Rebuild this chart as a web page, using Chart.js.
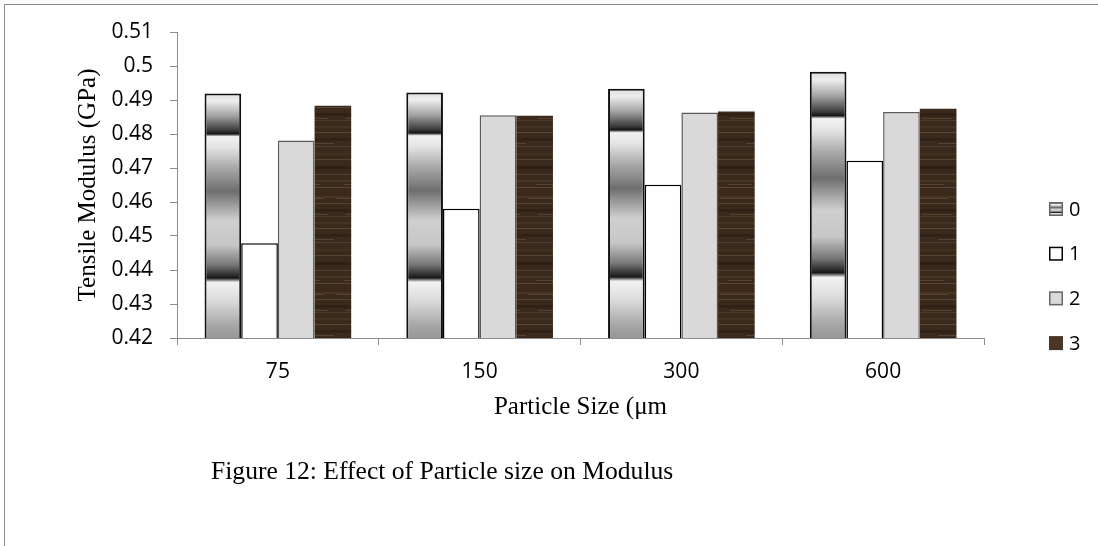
<!DOCTYPE html>
<html>
<head>
    <title>Effect of Particle size on Modulus</title>
    <script src="https://cdn.jsdelivr.net/npm/chart.js"></script>
    <style>
        body { margin: 0; background: #fff; }
        #frame { position: absolute; left: 4px; top: 4px; width: 1200px; height: 600px;
                 border-top: 1px solid #8c8c8c; border-left: 1px solid #8c8c8c; }
        #chart { position: absolute; left: 0; top: 0; }
        #caption { position: absolute; left: 211px; top: 456px; font: 25.6px 'Liberation Serif', serif;
                   line-height: 30px; color: #000; white-space: nowrap; }
    </style>
</head>
<body>
    <div id="frame"></div>
    <canvas id="chart" width="1098" height="546"></canvas>
    <div id="caption">Figure 12: Effect of Particle size on Modulus</div>

    <script>
        // particle sizes (µm) and tensile modulus (GPa) for each filler series
        const sizes = ['75', '150', '300', '600'];
        const seriesNames = ['0', '1', '2', '3'];
        const modulus0 = [0.4919, 0.4922, 0.4933, 0.4983];
        const modulus1 = [0.4479, 0.4580, 0.4651, 0.4721];
        const modulus2 = [0.4781, 0.4855, 0.4863, 0.4865];
        const modulus3 = [0.4883, 0.4854, 0.4866, 0.4874];
        const yMin = 0.42, yMax = 0.51, yStep = 0.01;

        const canvas = document.getElementById('chart');
        const c2d = canvas.getContext('2d');

        // chrome style banded gradient, offsets measured from bar top to base
        const chromeStops = [
            [0.00, '#dcdcdc'], [0.03, '#eeeeee'], [0.09, '#a4a4a4'], [0.15, '#3c3c3c'],
            [0.165, '#141414'], [0.176, '#f2f2f2'], [0.22, '#e4e4e4'], [0.30, '#ababab'],
            [0.40, '#6e6e6e'], [0.47, '#a8a8a8'], [0.52, '#cfcfcf'], [0.62, '#c6c6c6'],
            [0.70, '#787878'], [0.755, '#181818'], [0.772, '#f2f2f2'], [0.85, '#dadada'],
            [0.95, '#a6a6a6'], [1.00, '#979797']
        ];

        function chromeGradient(top, bottom) {
            const g = c2d.createLinearGradient(0, top, 0, bottom);
            chromeStops.forEach(([o, col]) => g.addColorStop(o, col));
            return g;
        }

        function chromeFill(context) {
            const chart = context.chart;
            const y = chart.scales.y;
            if (!chart.chartArea || !y || context.raw == null) return '#bdbdbd';
            return chromeGradient(y.getPixelForValue(context.raw), y.getPixelForValue(y.min));
        }

        // dark wood grain texture: soft full-width grain lines plus a few lighter flecks
        function woodPattern() {
            const tile = document.createElement('canvas');
            tile.width = 48; tile.height = 96;
            const t = tile.getContext('2d');
            t.fillStyle = '#3b2a1c';
            t.fillRect(0, 0, 48, 96);
            const grain = [
                [4, 2, '#4a3625'], [11, 1, '#5c4631'], [17, 3, '#2e2014'], [24, 1, '#554030'],
                [30, 2, '#473424'], [36, 1, '#614b35'], [42, 3, '#2f2115'], [50, 1, '#574231'],
                [57, 2, '#443222'], [63, 1, '#5e4833'], [70, 3, '#2d1f13'], [78, 1, '#5a4430'],
                [84, 2, '#4b3726'], [91, 1, '#604a34']
            ];
            grain.forEach(([gy, h, col]) => {
                t.fillStyle = col;
                t.globalAlpha = 0.85;
                t.fillRect(0, gy, 48, h);
            });
            const flecks = [[6, 36, 0, 14], [22, 30, 10, 48], [47, 20, 26, 64], [88, 24, 8, 80]];
            t.globalAlpha = 0.45;
            t.fillStyle = '#7a6148';
            flecks.forEach(([fy, w, x0]) => t.fillRect(x0, fy, w, 1));
            t.globalAlpha = 1;
            return c2d.createPattern(tile, 'repeat');
        }
        const wood = woodPattern();

        const legendSwatches = [
            { fill: null, stroke: '#666' },
            { fill: '#ffffff', stroke: '#000' },
            { fill: '#d9d9d9', stroke: '#666' },
            { fill: '#4a3525', stroke: null }
        ];

        // legend on the right, drawn beside the plot
        const sideLegend = {
            id: 'sideLegend',
            afterDraw(chart) {
                const ctx = chart.ctx;
                ctx.save();
                ctx.font = "20px 'Open Sans'";
                ctx.textBaseline = 'middle';
                seriesNames.forEach((name, i) => {
                    const cy = 209 + i * 44.7;
                    const x = 1049, s = 14, top = cy - s / 2;
                    const sw = legendSwatches[i];
                    ctx.fillStyle = sw.fill || chromeGradient(top, top + s);
                    ctx.fillRect(x, top, s, s);
                    if (sw.stroke) {
                        ctx.strokeStyle = sw.stroke;
                        ctx.lineWidth = 1.5;
                        ctx.strokeRect(x + 0.75, top + 0.75, s - 1.5, s - 1.5);
                    }
                    ctx.fillStyle = '#000';
                    ctx.fillText(name, 1069, cy + 1);
                });
                ctx.restore();
            }
        };

        new Chart(c2d, {
            type: 'bar',
            data: {
                labels: sizes,
                datasets: [
                    { label: seriesNames[0], data: modulus0, backgroundColor: chromeFill,
                      borderColor: '#111', borderWidth: 2 },
                    { label: seriesNames[1], data: modulus1, backgroundColor: '#ffffff',
                      borderColor: '#000', borderWidth: 1.5 },
                    { label: seriesNames[2], data: modulus2, backgroundColor: '#d9d9d9',
                      borderColor: '#5a5a5a', borderWidth: 1.5 },
                    { label: seriesNames[3], data: modulus3, backgroundColor: wood,
                      borderWidth: 0 }
                ]
            },
            options: {
                responsive: false,
                animation: false,
                devicePixelRatio: 1,
                layout: { padding: { left: 70, right: 114, top: 32, bottom: 124 } },
                datasets: { bar: { categoryPercentage: 0.727, barPercentage: 1.0 } },
                plugins: { legend: { display: false }, tooltip: { enabled: false } },
                scales: {
                    x: {
                        afterFit(scale) { scale.height = 84; },
                        grid: { drawOnChartArea: false, color: '#8c8c8c', tickLength: 7 },
                        border: { color: '#8c8c8c', width: 1 },
                        ticks: { color: '#000', padding: 14, font: { family: 'Open Sans', size: 21 } },
                        title: { display: true, text: 'Particle Size (μm', color: '#000',
                                 padding: { top: 0, bottom: 0 },
                                 font: { family: 'Liberation Serif', size: 25 } }
                    },
                    y: {
                        min: yMin, max: yMax,
                        afterFit(scale) { scale.width = 107; },
                        grid: { drawOnChartArea: false, color: '#8c8c8c', tickLength: 7 },
                        border: { color: '#8c8c8c', width: 1 },
                        ticks: { stepSize: yStep, color: '#000', padding: 17,
                                 font: { family: 'Open Sans', size: 21 },
                                 callback: v => String(+v.toFixed(2)) },
                        title: { display: true, text: 'Tensile Modulus (GPa)', color: '#000',
                                 padding: { top: 3, bottom: 0 },
                                 font: { family: 'Liberation Serif', size: 25 } }
                    }
                }
            },
            plugins: [sideLegend]
        });
    </script>
</body>
</html>
